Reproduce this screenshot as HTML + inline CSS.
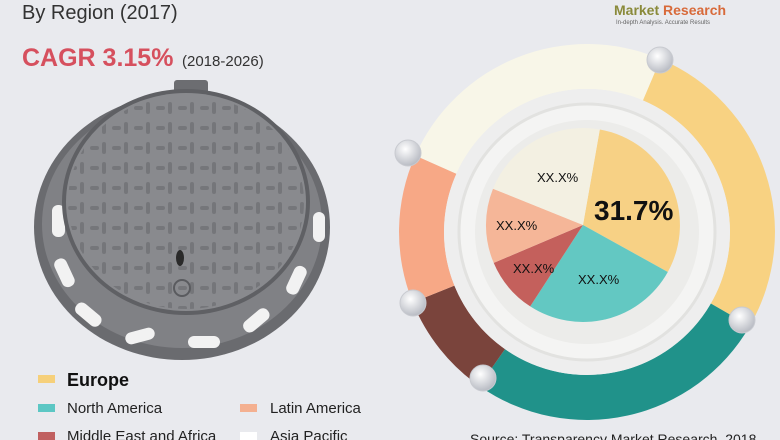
<!DOCTYPE html>
<html><head><style>
body{margin:0;width:780px;height:440px;overflow:hidden;background:#e9eaee;font-family:"Liberation Sans",sans-serif}
</style></head><body>
<svg width="780" height="440" viewBox="0 0 780 440" xmlns="http://www.w3.org/2000/svg" style="position:absolute;left:0;top:0">
<defs>
<radialGradient id="kn" cx="40%" cy="35%" r="65%"><stop offset="0" stop-color="#ffffff"/><stop offset="1" stop-color="#b9bcc4"/></radialGradient>
<pattern id="pt" width="22" height="20" patternUnits="userSpaceOnUse"><rect x="2" y="6" width="9" height="4" rx="2" fill="#6d6e72"/><rect x="14" y="2" width="4" height="12" rx="2" fill="#6d6e72"/></pattern>
</defs>
<text x="22" y="19" font-size="20" fill="#333">By Region (2017)</text>
<text x="22" y="66" font-size="25" font-weight="bold" fill="#d6505e">CAGR 3.15%</text>
<text x="182" y="66" font-size="15" fill="#333">(2018-2026)</text>
<text x="614" y="15" font-size="14" font-weight="bold" fill="#8a8a3a">Market <tspan fill="#d86a3a">Research</tspan></text>
<text x="616" y="24" font-size="6" fill="#666">In-depth Analysis. Accurate Results</text>
<!-- manhole -->
<rect x="174" y="80" width="34" height="24" rx="3" fill="#6c6d71"/>
<ellipse cx="182" cy="227" rx="148" ry="133" fill="#6a6b6f"/>
<ellipse cx="182" cy="224" rx="140" ry="124" fill="#808185"/>
<g fill="#f2f2f2">
<rect x="52" y="205" width="13" height="32" rx="6"/>
<rect x="58" y="258" width="13" height="30" rx="6" transform="rotate(-25 64 273)"/>
<rect x="82" y="300" width="13" height="30" rx="6" transform="rotate(-50 88 315)"/>
<rect x="125" y="330" width="30" height="12" rx="6" transform="rotate(-15 140 336)"/>
<rect x="188" y="336" width="32" height="12" rx="6"/>
<rect x="250" y="305" width="13" height="30" rx="6" transform="rotate(50 256 320)"/>
<rect x="290" y="265" width="13" height="30" rx="6" transform="rotate(25 296 280)"/>
<rect x="313" y="212" width="12" height="30" rx="6"/>
</g>
<ellipse cx="186" cy="202" rx="124" ry="113" fill="#5f6064"/>
<ellipse cx="186" cy="202" rx="120" ry="109" fill="#898a8e"/>
<ellipse cx="186" cy="202" rx="118" ry="107" fill="url(#pt)" opacity="0.7"/>
<circle cx="182" cy="288" r="8" fill="none" stroke="#5a5b5f" stroke-width="2"/>
<ellipse cx="180" cy="258" rx="4" ry="8" fill="#2a2a2a"/>
<!-- legend -->
<rect x="38" y="375" width="17" height="8" fill="#f6d07a"/>
<text x="67" y="386" font-size="18" font-weight="bold" fill="#111">Europe</text>
<rect x="38" y="404" width="17" height="8" fill="#5cc7c4"/>
<text x="67" y="413" font-size="15" fill="#222">North America</text>
<rect x="240" y="404" width="17" height="8" fill="#f4b090"/>
<text x="270" y="413" font-size="15" fill="#222">Latin America</text>
<rect x="38" y="432" width="17" height="8" fill="#c06060"/>
<text x="67" y="441" font-size="15" fill="#222">Middle East and Africa</text>
<rect x="240" y="432" width="17" height="8" fill="#ffffff"/>
<text x="270" y="441" font-size="15" fill="#222">Asia Pacific</text>
<text x="470" y="444" font-size="14" fill="#222">Source: Transparency Market Research, 2018</text>
<!-- outer donut ring: center 587,232, r 188 outer, 143 inner -->
<g transform="translate(587,232)">
<path d="M73.5,-173 A188,188 0 0 1 162.8,94 L123.8,71.5 A143,143 0 0 0 55.9,-131.6Z" fill="#f8d282"/>
<path d="M162.8,94 A188,188 0 0 1 -107.8,154 L-82,117.1 A143,143 0 0 0 123.8,71.5Z" fill="#20928a"/>
<path d="M-107.8,154 A188,188 0 0 1 -174.3,70.4 L-132.6,53.6 A143,143 0 0 0 -82,117.1Z" fill="#7a443c"/>
<path d="M-174.3,70.4 A188,188 0 0 1 -171.7,-76.5 L-130.6,-58.2 A143,143 0 0 0 -132.6,53.6Z" fill="#f7a886"/>
<path d="M-171.7,-76.5 A188,188 0 0 1 73.5,-173 L55.9,-131.6 A143,143 0 0 0 -130.6,-58.2Z" fill="#f8f6e8"/>
<circle r="143" fill="#eeeeee"/>
<circle r="128" fill="#f4f4f3" stroke="#e2e2e0" stroke-width="3"/>
<circle r="112" fill="#ececea"/>
</g>
<!-- pie center 583,225 r 97 -->
<g transform="translate(583,225)">
<path d="M0,0 L16.8,-95.5 A97,97 0 0 1 84.8,47Z" fill="#f7d185"/>
<path d="M0,0 L84.8,47 A97,97 0 0 1 -52.8,81.4Z" fill="#63c8c2"/>
<path d="M0,0 L-52.8,81.4 A97,97 0 0 1 -89.3,37.9Z" fill="#c4605c"/>
<path d="M0,0 L-89.3,37.9 A97,97 0 0 1 -90,-36.3Z" fill="#f5b698"/>
<path d="M0,0 L-90,-36.3 A97,97 0 0 1 16.8,-95.5Z" fill="#f3f0e2"/>
</g>
<g font-size="13" fill="#111">
<text x="537" y="182">XX.X%</text>
<text x="496" y="230">XX.X%</text>
<text x="513" y="273">XX.X%</text>
<text x="578" y="284">XX.X%</text>
</g>
<text x="594" y="220" font-size="28" font-weight="bold" fill="#111">31.7%</text>
<g fill="url(#kn)" stroke="#c8cad0" stroke-width="1">
<circle cx="660" cy="60" r="13"/>
<circle cx="408" cy="153" r="13"/>
<circle cx="413" cy="303" r="13"/>
<circle cx="483" cy="378" r="13"/>
<circle cx="742" cy="320" r="13"/>
</g>
</svg>
</body></html>
